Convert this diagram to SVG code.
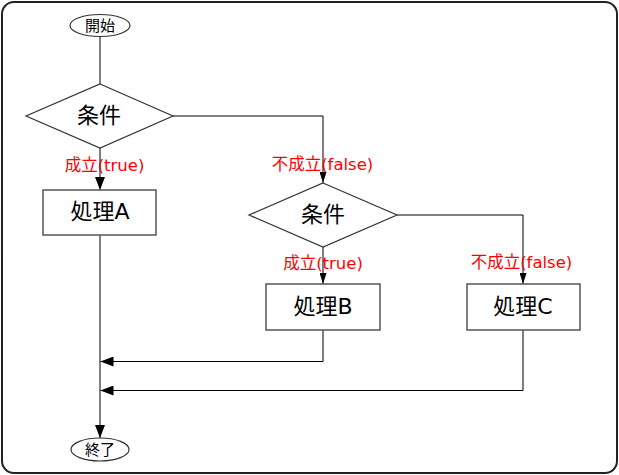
<svg xmlns="http://www.w3.org/2000/svg" width="619" height="475" viewBox="0 0 619 475">
<style>
.frame{fill:#fff;stroke:#222;stroke-width:2}
.shape{fill:#fff;stroke:#333;stroke-width:1.2}
.box{fill:#fff;stroke:#555;stroke-width:1.5}
.line{fill:none;stroke:#000;stroke-width:1}
.t{font-family:"DejaVu Sans","Noto Sans CJK JP",sans-serif;fill:#000;text-anchor:middle;dominant-baseline:central}
.lbl{font-family:"DejaVu Sans","Noto Sans CJK JP",sans-serif;fill:#ff0000;font-size:16.5px;text-anchor:middle;dominant-baseline:central}
</style>
<defs>
<marker id="big" markerUnits="userSpaceOnUse" viewBox="0 0 13 10" refX="13" refY="5" markerWidth="13" markerHeight="10" orient="auto">
<path d="M0,0 L13,5 L0,10 Z" fill="#000"/>
</marker>
<marker id="small" markerUnits="userSpaceOnUse" viewBox="0 0 11 7" refX="11" refY="3.5" markerWidth="11" markerHeight="7" orient="auto">
<path d="M0,0 L11,3.5 L0,7 Z" fill="#000"/>
</marker>
</defs>
<rect class="frame" x="2" y="2" width="615" height="471" rx="12" ry="12"/>
<g id="connectors">
<path class="line" d="M100,36.5 V84"/>
<path class="line" d="M100,148 V190" marker-end="url(#big)"/>
<path class="line" d="M173,116 H323 V183" marker-end="url(#small)"/>
<path class="line" d="M323,247 V284" marker-end="url(#small)"/>
<path class="line" d="M397,215 H523 V284" marker-end="url(#small)"/>
<path class="line" d="M100,235 V438" marker-end="url(#big)"/>
<path class="line" d="M323,330 V361.5 H100.5" marker-end="url(#big)"/>
<path class="line" d="M523,330 V390.5 H100.5" marker-end="url(#big)"/>
</g>
<g id="start">
<ellipse class="shape" cx="100" cy="25.5" rx="30" ry="11"/>
<text class="t" x="100" y="25.5" font-size="15">開始</text>
</g>
<g id="cond1">
<polygon class="shape" points="100,84 173,116 100,148 26,116"/>
<text class="t" x="99" y="115" font-size="22">条件</text>
</g>
<g id="procA">
<rect class="box" x="43" y="190" width="113" height="45"/>
<text class="t" x="100" y="211" font-size="22">処理A</text>
</g>
<g id="cond2">
<polygon class="shape" points="323,183 397,215 323,247 249,215"/>
<text class="t" x="323" y="214" font-size="22">条件</text>
</g>
<g id="procB">
<rect class="box" x="266" y="284" width="114" height="46"/>
<text class="t" x="323" y="306" font-size="22">処理B</text>
</g>
<g id="procC">
<rect class="box" x="467" y="284" width="113" height="46"/>
<text class="t" x="523" y="306" font-size="22">処理C</text>
</g>
<g id="end">
<ellipse class="shape" cx="100" cy="449.5" rx="29" ry="11.5"/>
<text class="t" x="100" y="449.5" font-size="15">終了</text>
</g>
<g id="labels">
<text class="lbl" x="104.5" y="165">成立(true)</text>
<text class="lbl" x="322.5" y="164">不成立(false)</text>
<text class="lbl" x="323" y="263">成立(true)</text>
<text class="lbl" x="521.5" y="262">不成立(false)</text>
</g>
</svg>
